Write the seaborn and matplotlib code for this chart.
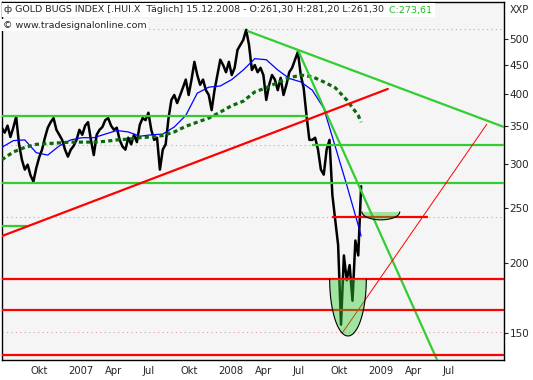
import numpy as np
import pandas as pd
import matplotlib
matplotlib.use("Agg")
import matplotlib.pyplot as plt
import matplotlib.dates as mdates
from matplotlib.ticker import FixedLocator, FixedFormatter, NullLocator
import seaborn as sns

sns.set_style('white')
plt.rcParams['font.family'] = ['DejaVu Sans']

# weekly closes (Mondays)
price_start = '2006-07-24'
price_close = [348, 341, 351, 335, 348, 364, 325, 305, 293, 299,
               286, 279, 295, 308, 318, 334, 348, 356, 362, 345,
               338, 331, 318, 309, 318, 323, 331, 345, 338, 351,
               356, 331, 311, 338, 345, 349, 359, 362, 351, 345,
               348, 331, 322, 318, 334, 325, 338, 328, 352, 362,
               359, 370, 345, 331, 334, 293, 318, 325, 362, 390,
               398, 385, 397, 410, 424, 398, 424, 456, 432, 415,
               424, 406, 398, 374, 406, 432, 460, 450, 437, 456,
               432, 445, 479, 489, 499, 520, 489, 441, 450, 437,
               445, 432, 390, 415, 432, 424, 406, 427, 398, 415,
               437, 445, 460, 475, 432, 410, 366, 331, 331, 334,
               318, 293, 287, 318, 331, 264, 238, 215, 155, 206,
               186, 198, 171, 219, 206, 273.61]

# moving averages, sampled every 4 weeks + last bar
ma_fast = [321, 330, 331, 314, 311, 323, 331, 334, 334, 339,
           344, 342, 336, 338, 339, 349, 366, 401, 411, 413,
           424, 441, 462, 460, 441, 426, 420, 406, 377, 322,
           275, 233, 223]
ma_slow = [305, 315, 321, 325, 326, 327, 328, 328, 328, 329,
           331, 332, 334, 335, 337, 342, 350, 356, 362, 371,
           381, 388, 403, 410, 419, 427, 432, 429, 420, 410,
           390, 366, 356]

left_date, right_date = '2006-07-24 12:00', '2009-11-27 22:00'

# drawn objects: (level, start, end)
green_levels = [(365.4, left_date, '2008-08-08'), (323.5, '2008-08-18', right_date),
                (277.0, left_date, right_date), (232.0, left_date, '2006-09-24')]
red_levels = [(186.8, left_date, right_date), (164.7, left_date, right_date),
              (137.0, left_date, right_date), (241.3, '2008-10-06', '2009-05-27')]
dotted_levels = [522, 323.5, 279, 241.5, 150.4]
green_trends = [('2008-03-15', 517, right_date, 349), ('2008-07-15', 477, '2009-06-18', 134.1)]
red_trend = ('2006-07-24', 223, '2009-02-18', 408)
thin_red_trend = ('2008-10-30', 149.8, '2009-10-17', 353)
# half ellipses: center, half width (days), top, bottom
ellipses = [('2008-11-13', 44.6, 186.8, 148), ('2009-02-01', 46, 246.3, 238.4)]

xtick_dates = ['2006-10-01', '2007-01-01', '2007-04-01', '2007-07-01', '2007-10-01',
               '2008-01-01', '2008-04-01', '2008-07-01', '2008-10-01', '2009-01-01',
               '2009-04-01', '2009-07-01']
xtick_labels = ['Okt', '2007', 'Apr', 'Jul', 'Okt', '2008', 'Apr', 'Jul', 'Okt',
                '2009', 'Apr', 'Jul']
ytick_vals = [150, 200, 250, 300, 350, 400, 450, 500]

LIME = '#33cc33'
RED = '#ff0000'


def dn(s):
    return mdates.date2num(pd.Timestamp(s))


fig = plt.figure(figsize=(5.33, 3.8), dpi=100)
ax = fig.add_axes([2 / 533, 20 / 380, 502 / 533, 358 / 380])
ax.set_facecolor('#f5f5f5')
ax.set_yscale('log')

price_df = pd.DataFrame({'date': pd.date_range(price_start, periods=len(price_close), freq='7D'),
                         'close': price_close})
ma_dates = pd.date_range(price_start, periods=len(ma_fast) - 1, freq='28D').append(
    pd.DatetimeIndex(['2008-12-15']))
ma_df = pd.DataFrame({'date': ma_dates, 'fast': ma_fast, 'slow': ma_slow})

for lvl in dotted_levels:
    ax.axhline(lvl, color='#e59a9a', lw=0.8, ls=(0, (1, 3)), zorder=1)

sns.lineplot(data=price_df, x='date', y='close', color='black', lw=1.8, ax=ax, zorder=2)
sns.lineplot(data=ma_df, x='date', y='fast', color='#0000ff', lw=0.9, ax=ax, zorder=3)
sns.lineplot(data=ma_df, x='date', y='slow', color='#0b6b0b', lw=2.3, ax=ax, zorder=3,
             linestyle=(0, (1.3, 1.0)), dash_capstyle='butt')

for lvl, a, b in green_levels:
    ax.plot([dn(a), dn(b)], [lvl, lvl], color=LIME, lw=1.6, zorder=4, solid_capstyle='butt')
for d1, v1, d2, v2 in green_trends:
    ax.plot([dn(d1), dn(d2)], [v1, v2], color=LIME, lw=1.6, zorder=4)
for lvl, a, b in red_levels:
    ax.plot([dn(a), dn(b)], [lvl, lvl], color=RED, lw=1.6, zorder=4, solid_capstyle='butt')
d1, v1, d2, v2 = red_trend
ax.plot([dn(d1), dn(d2)], [v1, v2], color=RED, lw=1.6, zorder=4)
d1, v1, d2, v2 = thin_red_trend
ax.plot([dn(d1), dn(d2)], [v1, v2], color=RED, lw=0.7, zorder=4)

for center, half, top, bottom in ellipses:
    t = np.linspace(0, np.pi, 80)
    xs = dn(center) + half * np.cos(t)
    ys = np.exp(np.log(top) - (np.log(top) - np.log(bottom)) * np.sin(t))
    ax.fill(xs, ys, color=LIME, alpha=0.43, lw=0, zorder=5)
    ax.plot(xs, ys, color='black', lw=0.8, zorder=6)

ax.set_xlim(dn(left_date), dn(right_date))
ax.set_ylim(134.1, 583)

ax.yaxis.tick_right()
ax.yaxis.set_major_locator(FixedLocator(ytick_vals))
ax.yaxis.set_major_formatter(FixedFormatter([str(v) for v in ytick_vals]))
ax.yaxis.set_minor_locator(NullLocator())
ax.tick_params(axis='y', which='major', direction='out', length=3, width=0.8,
               pad=1, labelsize=7.5, right=True, left=False)

ax.xaxis.set_major_locator(FixedLocator([dn(d) for d in xtick_dates]))
ax.xaxis.set_major_formatter(FixedFormatter(xtick_labels))
ax.xaxis.set_minor_locator(NullLocator())
ax.tick_params(axis='x', direction='out', length=4, width=0.8, pad=0.5, labelsize=7.2)
for lab in ax.get_xticklabels():
    lab.set_horizontalalignment('left')

ax.set_xlabel('')
ax.set_ylabel('')
for sp in ax.spines.values():
    sp.set_color('black')
    sp.set_linewidth(1.0)

# header inside the plot frame
title = ax.text(4 / 533, 1 - 10 / 380,
                'ф GOLD BUGS INDEX [.HUI.X  Täglich] 15.12.2008 - O:261,30 H:281,20 L:261,30',
                transform=fig.transFigure, fontsize=6.8, va='center', ha='left', zorder=10,
                clip_on=False, bbox=dict(facecolor='white', edgecolor='none', pad=1.8))
ax.annotate(' C:273,61', xy=(1, 0.5), xycoords=title, xytext=(1.8, 0),
            textcoords='offset points', va='center', ha='left', fontsize=6.8,
            color='#22bb22', annotation_clip=False, zorder=11,
            bbox=dict(facecolor='white', edgecolor='none', pad=1.8))
ax.text(3 / 533, 1 - 25 / 380, '© www.tradesignalonline.com', transform=fig.transFigure,
        fontsize=6.8, va='center', ha='left', zorder=10, clip_on=False,
        bbox=dict(facecolor='white', edgecolor='none', pad=1.2))
fig.text(510 / 533, 1 - 10 / 380, 'XXP', fontsize=7, va='center', ha='left')

fig.savefig('out.png', dpi=100, facecolor='white')
